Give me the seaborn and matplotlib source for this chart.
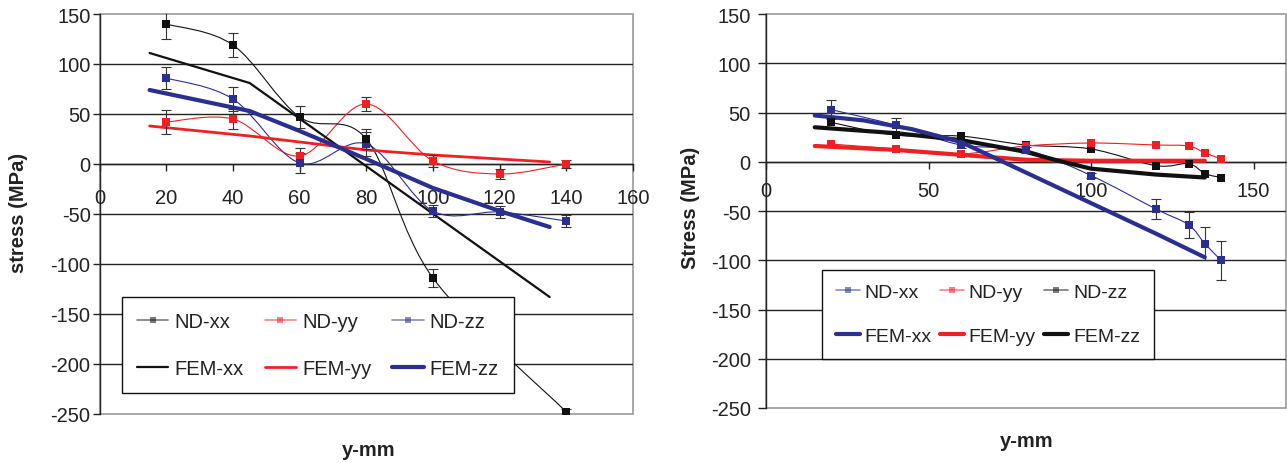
import numpy as np
import pandas as pd
import seaborn as sns
import matplotlib
matplotlib.use("Agg")
import matplotlib.pyplot as plt
from matplotlib.path import Path
from matplotlib.patches import PathPatch, Rectangle
from matplotlib.lines import Line2D

# ---------------- left panel data ----------------
nd_x = [20, 40, 60, 80, 100, 120, 140]
left_xx = [140, 119, 47, 25, -114, None, -248]
left_xx_err = [15, 12, 11, 10, 9, None, 3]
left_yy = [42, 45, 8, 60, 3, -10, 0]
left_yy_err = [12, 10, 8, 7, 6, 5, 4]
left_zz = [86, 65, 1, 20, -47, -48, -57]
left_zz_err = [11, 12, 10, 12, 6, 6, 6]

fem_left_xx_x = [15, 45, 135]
fem_left_xx = [111, 81, -133]
fem_left_yy_x = [15, 45, 60, 80, 100, 135]
fem_left_yy = [38, 28, 22, 14, 9, 2]
fem_left_zz_x = [15, 45, 60, 80, 100, 120, 135]
fem_left_zz = [74, 53, 33, 5, -24, -47, -63]

# ---------------- right panel data ----------------
right_x = [20, 40, 60, 80, 100, 120, 130, 135, 140]
right_xx = [53, 37, 17, 12, -14, -48, -64, -83, -100]
right_xx_err = [10, 7, 3, 3, 3, 10, 13, 17, 20]
right_yy = [18, 13, 8, 16, 19, 17, 16, 9, 3]
right_zz = [40, 27, 26, 17, 13, -4, -2, -12, -16]

fem_right_xx_x = [15, 30, 45, 60, 80, 100, 120, 135]
fem_right_xx = [47, 42, 33, 20, -11, -42, -73, -97]
fem_right_yy_x = [15, 40, 60, 80, 100, 135]
fem_right_yy = [16, 12, 7, 2, 1, 1]
fem_right_zz_x = [15, 40, 60, 80, 90, 100, 120, 135]
fem_right_zz = [35, 29, 22, 10, 1, -7, -13, -16]

BLUE = "#2B2F8F"
RED = "#EE2024"
BLACK = "#111111"
FS = 14.5

sns.set_theme(style="white")
plt.rcParams["font.family"] = ["Liberation Sans", "DejaVu Sans"]
plt.rcParams["axes.unicode_minus"] = False

W, H = 1287, 464
fig = plt.figure(figsize=(W / 100, H / 100), dpi=100)
ax1 = fig.add_axes([99.6 / W, (H - 415) / H, 533.4 / W, 400 / H])
ax2 = fig.add_axes([766 / W, (H - 409) / H, 520 / W, 394 / H])


def smooth_path(x, y):
    # excel style smoothed line, bezier control points from neighbours
    pts = np.column_stack([x, y]).astype(float)
    n = len(pts)
    verts = [pts[0]]
    codes = [Path.MOVETO]
    for i in range(n - 1):
        p0 = pts[max(i - 1, 0)]
        p1 = pts[i]
        p2 = pts[i + 1]
        p3 = pts[min(i + 2, n - 1)]
        verts += [p1 + (p2 - p0) / 6, p2 - (p3 - p1) / 6, p2]
        codes += [Path.CURVE4] * 3
    return Path(verts, codes)


def nd_series(ax, x, y, err, color):
    if err is None:
        err = [np.nan] * len(x)
    df = pd.DataFrame({"x": x, "y": y, "e": err}).dropna(subset=["y"])
    ax.add_patch(PathPatch(smooth_path(df["x"], df["y"]), fill=False,
                           ec=color, lw=0.8, zorder=3))
    de = df.dropna(subset=["e"])
    if len(de):
        ax.errorbar(de["x"], de["y"], yerr=de["e"], fmt="none", ecolor="#333333",
                    elinewidth=0.8, capsize=3.5, capthick=0.8, zorder=4)
    sns.scatterplot(data=df, x="x", y="y", ax=ax, marker="s", s=30, color=color,
                    edgecolor=color, linewidth=0, zorder=5, legend=False)


def fem_series(ax, x, y, color, lw):
    df = pd.DataFrame({"x": x, "y": y})
    sns.lineplot(data=df, x="x", y="y", ax=ax, color=color, lw=lw,
                 sort=False, estimator=None, zorder=3.5)


def style_axis(ax, xticks, xpad, ylab, ylab_pos, xlab_pos, ypad, ylen):
    ax.set_xlim(0, 160)
    ax.set_ylim(-250, 150)
    ax.set_xticks(xticks)
    ax.set_yticks(range(-250, 151, 50))
    for v in range(-200, 101, 50):
        ax.axhline(v, color="#222222", lw=1, zorder=1)
    for s in ["top", "right"]:
        ax.spines[s].set_visible(False)
    ax.add_patch(Rectangle((0, 0), 1, 1, transform=ax.transAxes, fill=False,
                           ec="#9a9a9a", lw=1.2, zorder=0.5, clip_on=False))
    ax.spines["bottom"].set_position(("data", 0))
    ax.spines["bottom"].set_color("#222222")
    ax.spines["left"].set_color("#222222")
    ax.spines["bottom"].set_linewidth(1)
    ax.spines["left"].set_linewidth(1)
    ax.tick_params(axis="x", direction="out", length=5, width=1, color="#222222",
                   pad=xpad, labelsize=FS, labelcolor="#222222", bottom=True)
    ax.tick_params(axis="y", direction="out", length=ylen, width=1, color="#222222",
                   pad=ypad, labelsize=FS, labelcolor="#222222", left=True)
    ax.set_xlabel("y-mm", fontsize=FS, fontweight="bold", color="#222222")
    ax.set_ylabel(ylab, fontsize=FS, fontweight="bold", color="#222222")
    ax.yaxis.set_label_coords(*ylab_pos)
    ax.xaxis.set_label_coords(*xlab_pos)
    ax.patch.set_facecolor("white")


# ---- left ----
nd_series(ax1, nd_x, left_yy, left_yy_err, RED)
nd_series(ax1, nd_x, left_zz, left_zz_err, BLUE)
nd_series(ax1, nd_x, left_xx, left_xx_err, BLACK)
fem_series(ax1, fem_left_xx_x, fem_left_xx, BLACK, 1.6)
fem_series(ax1, fem_left_yy_x, fem_left_yy, RED, 2.0)
fem_series(ax1, fem_left_zz_x, fem_left_zz, BLUE, 3.0)
style_axis(ax1, range(0, 161, 20), 12.5, "stress (MPa)", (-0.134, 0.505),
           (0.505, -0.065), 1.5, 5)

# ---- right ----
nd_series(ax2, right_x, right_zz, None, BLACK)
nd_series(ax2, right_x, right_yy, None, RED)
nd_series(ax2, right_x, right_xx, right_xx_err, BLUE)
fem_series(ax2, fem_right_yy_x, fem_right_yy, RED, 3.0)
fem_series(ax2, fem_right_zz_x, fem_right_zz, BLACK, 3.0)
fem_series(ax2, fem_right_xx_x, fem_right_xx, BLUE, 3.0)
style_axis(ax2, [0, 50, 100, 150], 9, "Stress (MPa)", (-0.127, 0.51),
           (0.502, -0.058), 5, 6)


def nd_handle(color):
    return Line2D([], [], color=color, alpha=0.55, lw=1.2, marker="s", ms=5,
                  mfc=color, mec=color, markeredgewidth=0)


def fem_handle(color, lw):
    return Line2D([], [], color=color, lw=lw)


h1 = [nd_handle(BLACK), fem_handle(BLACK, 1.6), nd_handle(RED), fem_handle(RED, 2.0),
      nd_handle(BLUE), fem_handle(BLUE, 3.0)]
l1 = ["ND-xx", "FEM-xx", "ND-yy", "FEM-yy", "ND-zz", "FEM-zz"]
leg1 = fig.legend(h1, l1, ncol=3, loc="upper left", borderaxespad=0,
                  bbox_to_anchor=(122 / W, 1 - 298 / H), bbox_transform=fig.transFigure,
                  fontsize=FS, handlelength=1.55, handletextpad=0.3, columnspacing=1.05,
                  labelspacing=1.4, borderpad=0.75, fancybox=False, framealpha=1,
                  edgecolor="#111111", labelcolor="#222222")
leg1.get_frame().set_linewidth(1)

h2 = [nd_handle(BLUE), fem_handle(BLUE, 3.0), nd_handle(RED), fem_handle(RED, 3.0),
      nd_handle(BLACK), fem_handle(BLACK, 3.0)]
l2 = ["ND-xx", "FEM-xx", "ND-yy", "FEM-yy", "ND-zz", "FEM-zz"]
leg2 = fig.legend(h2, l2, ncol=3, loc="upper left", borderaxespad=0,
                  bbox_to_anchor=(822 / W, 1 - 271 / H), bbox_transform=fig.transFigure,
                  fontsize=14, handlelength=1.25, handletextpad=0.25, columnspacing=0.4,
                  labelspacing=1.35, borderpad=0.7, fancybox=False, framealpha=1,
                  edgecolor="#111111", labelcolor="#222222")
leg2.get_frame().set_linewidth(1)

fig.savefig("out.png", dpi=100, facecolor="white")
